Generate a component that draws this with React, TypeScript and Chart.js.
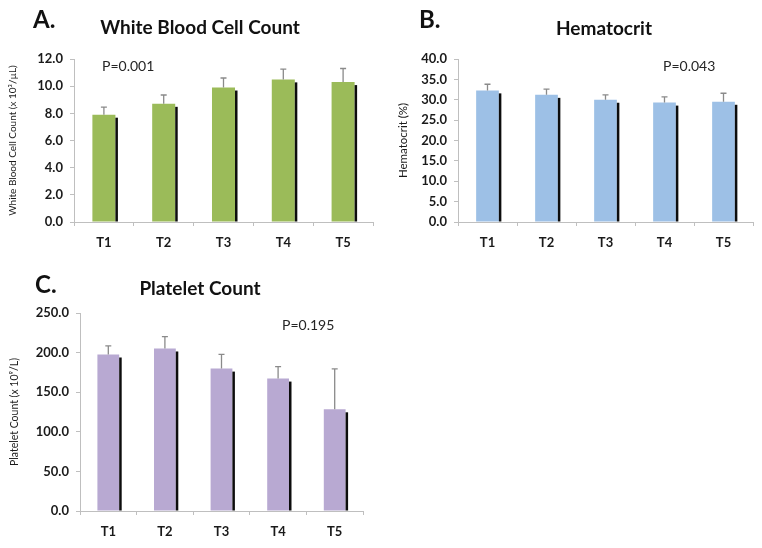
import React, { useEffect, useRef } from "react";
import { Chart, registerables } from "chart.js";

Chart.register(...registerables);

// ---------- data ----------
const categories = ["T1", "T2", "T3", "T4", "T5"];

const wbcValues = [7.9, 8.7, 9.9, 10.5, 10.3];
const wbcErrors = [0.55, 0.65, 0.7, 0.75, 1.0];

const hctValues = [32.3, 31.2, 30.0, 29.3, 29.5];
const hctErrors = [1.5, 1.4, 1.2, 1.4, 2.1];

const pltValues = [197.6, 205.2, 179.8, 167.2, 128.4];
const pltErrors = [11, 15, 18, 15, 51];

const FONT = "Lato, 'Liberation Sans', 'DejaVu Sans', sans-serif";

// draws the dark edge on each bar and the upward error bar
const barDecor = {
  id: "barDecor",
  afterDatasetsDraw(chart: any, _args: any, opts: any) {
    const meta = chart.getDatasetMeta(0);
    const errs: number[] = opts.errors || [];
    const yScale = chart.scales.y;
    const ctx = chart.ctx;
    const values = chart.data.datasets[0].data as number[];
    ctx.save();
    meta.data.forEach((el: any, i: number) => {
      const { x, y, base, width } = el.getProps(["x", "y", "base", "width"], true);
      const right = x + width / 2;
      ctx.fillStyle = "#0d0d0d";
      ctx.fillRect(right, y + 3, 2.5, base - y - 3);
      const top = yScale.getPixelForValue(values[i] + errs[i]);
      ctx.strokeStyle = "#8a8a8a";
      ctx.lineWidth = 1.3;
      ctx.beginPath();
      ctx.moveTo(x, y);
      ctx.lineTo(x, top);
      ctx.moveTo(x - 3, top);
      ctx.lineTo(x + 3, top);
      ctx.stroke();
    });
    ctx.restore();
  },
};

type PanelCfg = {
  left: number;
  top: number;
  w: number;
  h: number;
  area: { left: number; right: number; top: number; bottom: number };
  values: number[];
  errors: number[];
  color: string;
  max: number;
  step: number;
  yTitle: string;
  yTitleSize: number;
  yTitlePad: number;
};

function Panel({ cfg }: { cfg: PanelCfg }) {
  const ref = useRef<HTMLCanvasElement | null>(null);
  useEffect(() => {
    if (!ref.current) return;
    const { w, h, area } = cfg;
    const axisGray = "#bfbfbf";
    const chart = new Chart(ref.current, {
      type: "bar",
      data: {
        labels: categories,
        datasets: [
          {
            data: cfg.values,
            backgroundColor: cfg.color,
            borderWidth: 0,
            barPercentage: 0.385,
            categoryPercentage: 1,
          },
        ],
      },
      options: {
        responsive: false,
        animation: false,
        devicePixelRatio: 1,
        layout: { padding: { left: 0, top: area.top, right: w - area.right, bottom: 0 } },
        plugins: {
          legend: { display: false },
          tooltip: { enabled: false },
          title: { display: false },
          barDecor: { errors: cfg.errors },
        } as any,
        scales: {
          x: {
            grid: {
              display: true,
              drawOnChartArea: false,
              drawTicks: true,
              tickLength: 4,
              color: axisGray,
              offset: true,
            },
            border: { display: true, color: axisGray, width: 1 },
            ticks: {
              color: "#1a1a1a",
              font: { family: FONT, size: 13, weight: "bold" },
              padding: 9,
            },
            afterFit: (s: any) => {
              s.height = h - area.bottom;
            },
          },
          y: {
            min: 0,
            max: cfg.max,
            grid: {
              display: true,
              drawOnChartArea: false,
              drawTicks: true,
              tickLength: 4,
              color: axisGray,
            },
            border: { display: true, color: axisGray, width: 1 },
            ticks: {
              stepSize: cfg.step,
              color: "#1a1a1a",
              font: { family: FONT, size: 13, weight: "bold" },
              padding: 7,
              callback: (v: any) => Number(v).toFixed(1),
            },
            title: {
              display: true,
              text: cfg.yTitle,
              color: "#1a1a1a",
              font: { family: FONT, size: cfg.yTitleSize },
              padding: { top: cfg.yTitlePad, bottom: 0 },
            },
            afterFit: (s: any) => {
              s.width = area.left;
            },
          },
        },
      } as any,
      plugins: [barDecor],
    });
    return () => chart.destroy();
  }, [cfg]);
  return (
    <canvas
      ref={ref}
      width={cfg.w}
      height={cfg.h}
      style={{ position: "absolute", left: cfg.left, top: cfg.top, width: cfg.w, height: cfg.h, display: "block" }}
    />
  );
}

const panelA: PanelCfg = {
  left: 0,
  top: 0,
  w: 380,
  h: 255,
  area: { left: 74, right: 373, top: 59, bottom: 222 },
  values: wbcValues,
  errors: wbcErrors,
  color: "#9bbb59",
  max: 12,
  step: 2,
  yTitle: "White Blood Cell Count (x 10\u00b3/\u00b5L)",
  yTitleSize: 10,
  yTitlePad: 7,
};

const panelB: PanelCfg = {
  left: 380,
  top: 0,
  w: 382,
  h: 255,
  area: { left: 78, right: 373, top: 59, bottom: 222 },
  values: hctValues,
  errors: hctErrors,
  color: "#9dc0e6",
  max: 40,
  step: 5,
  yTitle: "Hematocrit (%)",
  yTitleSize: 11.5,
  yTitlePad: 16,
};

const panelC: PanelCfg = {
  left: 0,
  top: 270,
  w: 400,
  h: 278,
  area: { left: 80, right: 363, top: 43, bottom: 241 },
  values: pltValues,
  errors: pltErrors,
  color: "#b8a9d2",
  max: 250,
  step: 50,
  yTitle: "Platelet Count (x 10\u2079/L)",
  yTitleSize: 10.5,
  yTitlePad: 8,
};

function Label({
  text,
  x,
  cy,
  size,
  bold,
  center,
  color,
}: {
  text: string;
  x: number;
  cy: number;
  size: number;
  bold?: boolean;
  center?: boolean;
  color?: string;
}) {
  return (
    <div
      style={{
        position: "absolute",
        left: x,
        top: cy,
        transform: center ? "translate(-50%, -50%)" : "translate(0, -50%)",
        fontFamily: FONT,
        fontSize: size,
        fontWeight: bold ? 700 : 400,
        lineHeight: 1,
        whiteSpace: "nowrap",
        color: color || "#111",
      }}
    >
      {text}
    </div>
  );
}

export default function App() {
  useEffect(() => {
    document.body.style.margin = "0";
  }, []);
  return (
    <div style={{ position: "absolute", left: 0, top: 0, width: 762, height: 548, background: "#fff", overflow: "hidden" }}>
      <Panel cfg={panelA} />
      <Panel cfg={panelB} />
      <Panel cfg={panelC} />

      <Label text="A." x={33} cy={19} size={24} bold />
      <Label text="White Blood Cell Count" x={200} cy={26} size={19} bold center />
      <Label text="P=0.001" x={102} cy={66} size={14} color="#262626" />

      <Label text="B." x={419} cy={19} size={24} bold />
      <Label text="Hematocrit" x={604} cy={27} size={19} bold center />
      <Label text="P=0.043" x={663} cy={66} size={14} color="#262626" />

      <Label text="C." x={35} cy={284} size={24} bold />
      <Label text="Platelet Count" x={200} cy={287} size={19} bold center />
      <Label text="P=0.195" x={282} cy={325} size={14} color="#262626" />
    </div>
  );
}
